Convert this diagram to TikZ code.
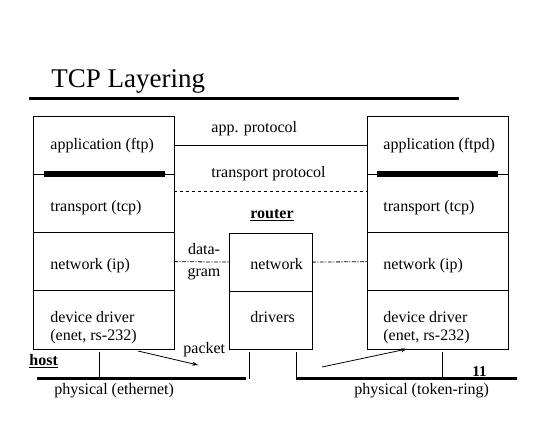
\documentclass[tikz,border=0pt]{standalone}
\usepackage{fontspec}
\setmainfont{Liberation Serif}
\usepackage{tikz}
\usetikzlibrary{positioning}
\usetikzlibrary{arrows.meta}

\begin{document}
\begin{tikzpicture}[x=1pt,y=-1pt,line width=0.8pt,
  layer/.style={draw,anchor=north west,minimum width=141pt,minimum height=58.25pt,inner sep=0pt,outer sep=0pt},
  txt/.style={anchor=base west,inner sep=0pt,align=left,font=\fontsize{16}{18}\selectfont},
  bar/.style={line width=5.5pt},
  bus/.style={line width=3pt},
  dashdot/.style={dash pattern=on 4pt off 1.5pt on 1pt off 1.5pt},
  msg/.style={-{Stealth[length=6pt,width=4pt]}}]
\useasboundingbox (0,0) rectangle (550,425);
% title
\node[txt,font=\fontsize{27}{30}\selectfont] (title) at (51,88) {TCP Layering};
\draw[line width=3pt] (29,99) -- (459,99);
% host stack
\node[layer] (lapp) at (33,116) {};
\node[layer,below=0pt of lapp] (ltr) {};
\node[layer,below=0pt of ltr] (lnet) {};
\node[layer,below=0pt of lnet] (ldrv) {};
\draw[bar] ([xshift=11pt]lapp.south west) -- ([xshift=-9pt]lapp.south east);
\node[txt] (lapp-t) at (50,150) {application (ftp)};
\node[txt] (ltr-t) at (50,212) {transport (tcp)};
\node[txt] (lnet-t) at (50,270) {network (ip)};
\node[txt] (ldrv-t) at (50,341) {device driver\\(enet, rs-232)};
% peer stack
\node[layer] (rapp) at (367,116) {};
\node[layer,below=0pt of rapp] (rtr) {};
\node[layer,below=0pt of rtr] (rnet) {};
\node[layer,below=0pt of rnet] (rdrv) {};
\draw[bar] ([xshift=10pt]rapp.south west) -- ([xshift=-10pt]rapp.south east);
\node[txt] (rapp-t) at (383,150) {application (ftpd)};
\node[txt] (rtr-t) at (383,212) {transport (tcp)};
\node[txt] (rnet-t) at (383,270) {network (ip)};
\node[txt] (rdrv-t) at (383,341) {device driver\\(enet, rs-232)};
% router
\node[layer,minimum width=83pt] (rtnet) at (229,233) {};
\node[layer,minimum width=83pt,below=0pt of rtnet] (rtdrv) {};
\node[txt] (rtnet-t) at (250,270) {network};
\node[txt] (rtdrv-t) at (250,323) {drivers};
\node[txt] (router) at (250,219) {\textbf{\underline{router}}};
\node[txt] (host) at (29,366) {\textbf{\underline{host}}};
% peer protocols
\draw (lapp.east) -- (rapp.west);
\node[txt] (app-l) at (211,133) {app. protocol};
\draw[dashed] ([yshift=12pt]ltr.east) -- ([yshift=12pt]rtr.west);
\node[txt] (tr-l) at (211,178) {transport protocol};
\draw[dashdot] (lnet.east) -- (rtnet.west);
\draw[dashdot] (rtnet.east) -- (rnet.west);
\node[txt,anchor=base] (dg1) at (204,255) {data-};
\node[txt,anchor=base] (dg2) at (204,277) {gram};
% physical links
\coordinate (eth-w) at (37,379);
\coordinate (eth-e) at (246,379);
\coordinate (tok-w) at (296,379);
\coordinate (tok-e) at (517,379);
\draw[bus] (eth-w) -- (eth-e);
\draw[bus] (tok-w) -- (tok-e);
\draw ([xshift=-4.5pt,yshift=-3pt]ldrv.south) -- ([xshift=-4.5pt]ldrv.south |- eth-w);
\draw ([xshift=20pt,yshift=-3pt]rtdrv.south west) -- ([xshift=20pt]rtdrv.south west |- eth-w);
\draw ([xshift=-16pt,yshift=-3pt]rtdrv.south east) -- ([xshift=-16pt]rtdrv.south east |- tok-w);
\draw ([xshift=4.5pt,yshift=-3pt]rdrv.south) -- ([xshift=4.5pt]rdrv.south |- tok-w);
\node[txt] (eth-t) at (54,395) {physical (ethernet)};
\node[txt] (tok-t) at (354,395) {physical (token-ring)};
\node[txt,font=\fontsize{15}{18}\selectfont\bfseries] (page) at (472,377) {11};
% packet hops
\coordinate (p1a) at (138,351);
\coordinate (p1b) at (198,365);
\coordinate (p2a) at (322,367);
\coordinate (p2b) at (407,349);
\draw[msg] (p1a) -- (p1b);
\draw[msg] (p2a) -- (p2b);
\node[txt] (pkt) at (183,354) {packet};
\end{tikzpicture}
\end{document}
